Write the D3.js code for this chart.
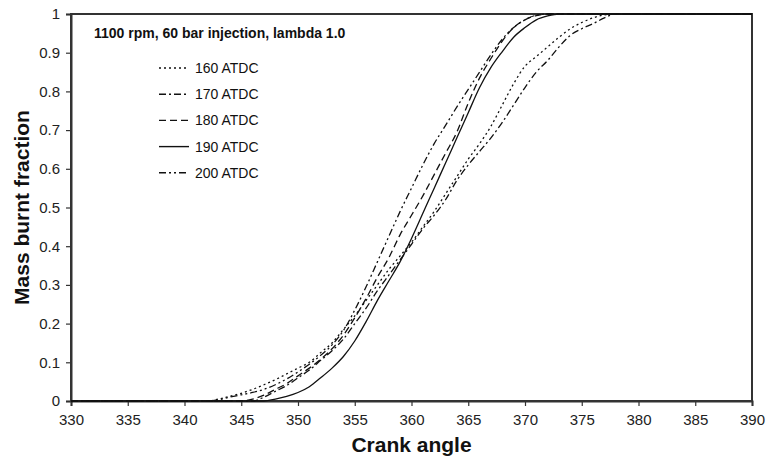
<!DOCTYPE html>
<html><head><meta charset="utf-8">
<script src="https://cdn.jsdelivr.net/npm/d3@7"></script>
<style>body{margin:0;background:#fff}svg{display:block}</style>
</head><body>
<script>
const title = "1100 rpm, 60 bar injection, lambda 1.0";
const seriesNames = ["160 ATDC","170 ATDC","180 ATDC","190 ATDC","200 ATDC"];
const xTicks = [330,335,340,345,350,355,360,365,370,375,380,385,390];
const yTicks = [0,0.1,0.2,0.3,0.4,0.5,0.6,0.7,0.8,0.9,1];

const angles160 = [330,342,343,344,345,346,347,348,349,350,351,352,353,354,355,356,357,358,359,360,361,362,363,364,365,366,367,368,369,370,371,372,373,374,375,376,377,378,390];
const mbf160    = [0,0,0.005,0.012,0.02,0.03,0.042,0.055,0.07,0.085,0.1,0.125,0.15,0.185,0.22,0.26,0.3,0.34,0.375,0.41,0.45,0.49,0.535,0.58,0.625,0.665,0.71,0.765,0.82,0.865,0.89,0.915,0.94,0.962,0.978,0.99,0.998,1,1];

const angles170 = [330,346,347,348,349,350,351,352,353,354,355,356,357,358,359,360,361,362,363,364,365,366,367,368,369,370,371,372,373,374,375,376,377,378,390];
const mbf170    = [0,0,0.01,0.025,0.04,0.06,0.08,0.105,0.13,0.16,0.2,0.24,0.285,0.325,0.365,0.405,0.445,0.48,0.52,0.57,0.61,0.645,0.68,0.72,0.765,0.81,0.85,0.88,0.915,0.945,0.962,0.975,0.99,1,1];

const angles180 = [330,345,346,347,348,349,350,351,352,353,354,355,356,357,358,359,360,361,362,363,364,365,366,367,368,369,370,371,372,390];
const mbf180    = [0,0,0.005,0.015,0.03,0.045,0.065,0.085,0.108,0.135,0.17,0.215,0.265,0.32,0.37,0.43,0.48,0.53,0.585,0.64,0.695,0.77,0.835,0.885,0.93,0.965,0.985,0.996,1,1];

const angles190 = [330,347,348,349,350,351,352,353,354,355,356,357,358,359,360,361,362,363,364,365,366,367,368,369,370,371,372,373,390];
const mbf190    = [0,0,0.005,0.012,0.022,0.037,0.06,0.085,0.115,0.155,0.205,0.26,0.31,0.36,0.42,0.485,0.55,0.615,0.68,0.745,0.81,0.862,0.903,0.94,0.965,0.985,0.995,1,1];

const angles200 = [330,342,343,344,345,346,347,348,349,350,351,352,353,354,355,356,357,358,359,360,361,362,363,364,365,366,367,368,369,370,371,372,390];
const mbf200    = [0,0,0.003,0.01,0.016,0.022,0.03,0.042,0.057,0.075,0.095,0.118,0.145,0.182,0.235,0.295,0.36,0.425,0.49,0.55,0.61,0.665,0.712,0.76,0.805,0.85,0.895,0.935,0.965,0.985,0.997,1,1];

const dashes = ["2,3","7,3,2,3","7,4",null,"7,3,2,3,2,3"];

const W = 768, H = 462;
const m = {left:71, right:16, top:14, bottom:61};
const svg = d3.select("body").append("svg").attr("width",W).attr("height",H);
const x = d3.scaleLinear().domain([330,390]).range([m.left, W-m.right]);
const y = d3.scaleLinear().domain([0,1]).range([H-m.bottom, m.top]);

const font = "Liberation Sans, Arial, sans-serif";
const axisColor = "#333";

// frame
svg.append("rect").attr("x",x(330)).attr("y",y(1)).attr("width",x(390)-x(330)).attr("height",y(0)-y(1))
  .attr("fill","none").attr("stroke",axisColor).attr("stroke-width",2);

const xAxis = svg.append("g").attr("transform",`translate(0,${y(0)})`)
  .call(d3.axisBottom(x).tickValues(xTicks).tickSize(5).tickPadding(8).tickFormat(d3.format("d")));
const yAxis = svg.append("g").attr("transform",`translate(${x(330)},0)`)
  .call(d3.axisLeft(y).tickValues(yTicks).tickSize(5).tickPadding(6).tickFormat(d=>d===0||d===1?String(d):d3.format(".1f")(d)));
[xAxis,yAxis].forEach(g=>{
  g.select(".domain").attr("stroke",axisColor).attr("stroke-width",2);
  g.selectAll(".tick line").attr("stroke",axisColor).attr("stroke-width",1.2);
  g.selectAll("text").attr("font-family",font).attr("font-size",15).attr("fill","#222");
});

const series = [
  [angles160,mbf160],[angles170,mbf170],[angles180,mbf180],[angles190,mbf190],[angles200,mbf200]
];
const line = d3.line().x(d=>x(d[0])).y(d=>y(d[1])).curve(d3.curveMonotoneX);
series.forEach((s,i)=>{
  const pts = s[0].map((a,j)=>[a,s[1][j]]);
  svg.append("path").datum(pts).attr("d",line).attr("fill","none")
    .attr("stroke","#111").attr("stroke-width",1.3)
    .attr("stroke-dasharray",dashes[i]);
});

// title
svg.append("text").attr("x",94).attr("y",38).text(title)
  .attr("font-family",font).attr("font-weight","bold").attr("font-size",14).attr("fill","#111");

// legend
const lg = svg.append("g");
seriesNames.forEach((n,i)=>{
  const yy = 68 + i*26.2;
  lg.append("line").attr("x1",159).attr("x2",189).attr("y1",yy).attr("y2",yy)
    .attr("stroke","#111").attr("stroke-width",1.4).attr("stroke-dasharray",dashes[i]);
  lg.append("text").attr("x",195).attr("y",yy+5).text(n)
    .attr("font-family",font).attr("font-size",14).attr("fill","#111");
});

// axis titles
svg.append("text").attr("x",x(360)).attr("y",452).attr("text-anchor","middle").text("Crank angle")
  .attr("font-family","Liberation Sans Narrow, Arial Narrow, "+font).attr("font-weight","bold").attr("font-size",21).attr("fill","#111");
svg.append("text").attr("transform",`translate(29,${(y(0)+y(1))/2}) rotate(-90)`).attr("text-anchor","middle").text("Mass burnt fraction")
  .attr("font-family","Liberation Sans Narrow, Arial Narrow, "+font).attr("font-weight","bold").attr("font-size",21).attr("fill","#111");
</script>
</body></html>
